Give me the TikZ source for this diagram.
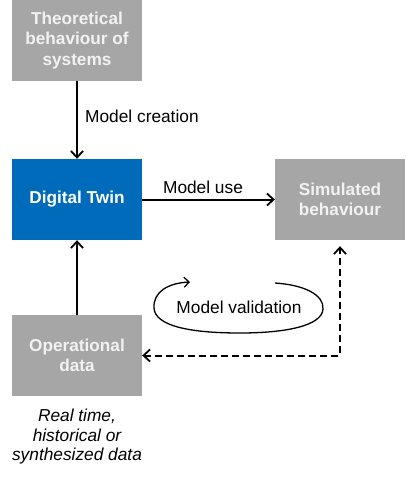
\documentclass[tikz,border=0pt]{standalone}
\usepackage{fontspec}
\setmainfont{Liberation Sans}
\usetikzlibrary{arrows.meta}
\definecolor{boxgray}{HTML}{A6A6A6}
\definecolor{twinblue}{HTML}{006BBA}
\begin{document}
\begin{tikzpicture}[x=1pt,y=-1pt,
  box/.style={minimum width=130pt,minimum height=81pt,inner sep=0pt,align=center,font=\fontsize{17.2}{20.5}\selectfont\bfseries},
  graybox/.style={box,fill=boxgray,text=white!95!black},
  bluebox/.style={box,fill=twinblue,text=white},
  barb/.style={},
  flow/.style={line width=2pt,-{Straight Barb[length=6.5pt,width=12pt,line width=1.8pt]}},
  lbl/.style={font=\fontsize{17.3}{20}\selectfont,inner sep=0pt}]
\useasboundingbox (0,0) rectangle (405,477);
\node[graybox] (theo) at (77,40.5) {Theoretical\\behaviour of\\systems};
\node[bluebox] (dt) at (77,199.5) {Digital Twin};
\node[graybox] (sim) at (340,199.5) {Simulated\\behaviour};
\node[graybox] (op) at (77,355.5) {Operational\\data};
\draw[flow] (theo) -- (dt);
\draw[flow] (op) -- (dt);
\draw[flow] (dt) -- (sim);
\node[lbl,anchor=west] (mc) at (85,116) {Model creation};
\node[lbl,anchor=base] (mu) at (203,193) {Model use};
\coordinate (corner) at (op.east -| sim.south);
\draw[line width=2pt,dash pattern=on 7pt off 4pt,
  {Straight Barb[length=6.5pt,width=12pt,line width=1.8pt]}-{Straight Barb[length=6.5pt,width=12pt,line width=1.8pt]},
  shorten >=6pt] (op.east) -- (corner) -- (sim.south);
\node[lbl] (mv) at (239,307) {Model validation};
\coordinate (ls) at (275,283);
\coordinate (le) at (190,282);
\draw[line width=1.3pt,-{Straight Barb[length=5pt,width=10pt,line width=1.3pt]}]
  (ls) .. controls (305,285) and (324,295) .. (323,309)
  .. controls (322,326) and (285,333) .. (240,333)
  .. controls (190,333) and (155,326) .. (154,308)
  .. controls (153,292) and (168,283) .. (le);
\node[lbl,font=\fontsize{17.3}{19.5}\selectfont\itshape,align=center,anchor=north] (note) at (77,409) {Real time,\\historical or\\synthesized data};
\end{tikzpicture}
\end{document}
